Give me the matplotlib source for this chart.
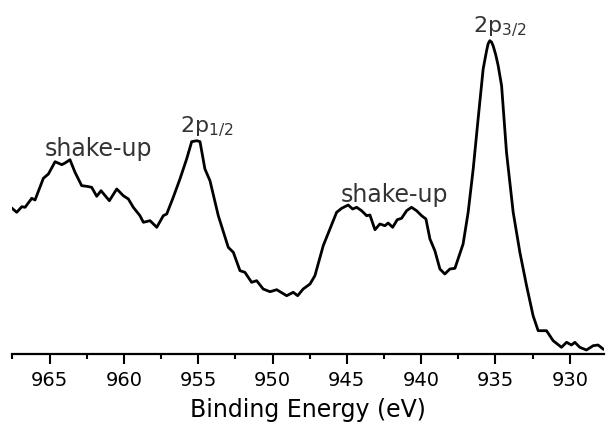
import matplotlib
matplotlib.use("Agg")
import matplotlib.pyplot as plt
from matplotlib.ticker import MultipleLocator

# Binding energy (eV) and intensity (arb. units)
energy = [967.55, 967.21, 966.87, 966.65, 966.20, 965.98, 965.42, 965.08, 964.63, 964.18,
          963.96, 963.63, 963.29, 962.84, 962.50, 962.17, 961.83, 961.54, 960.98, 960.48,
          960.04, 959.70, 959.37, 958.92, 958.69, 958.24, 957.79, 957.35, 957.12, 956.68,
          956.23, 955.78, 955.44, 955.10, 954.88, 954.55, 954.21, 953.65, 952.98, 952.64,
          952.19, 951.86, 951.41, 951.07, 950.63, 950.17, 949.72, 949.05, 948.61, 948.31,
          947.94, 947.48, 947.15, 946.59, 946.14, 945.69, 945.35, 944.91, 944.61, 944.34,
          944.01, 943.67, 943.45, 943.11, 942.78, 942.44, 942.22, 941.92, 941.61, 941.32,
          940.98, 940.65, 940.31, 939.97, 939.68, 939.41, 939.08, 938.74, 938.41, 938.07,
          937.73, 937.18, 936.84, 936.50, 936.17, 935.83, 935.60, 935.49, 935.38, 935.27,
          935.16, 934.98, 934.82, 934.59, 934.26, 933.81, 933.36, 932.91, 932.47, 932.13,
          931.57, 931.12, 930.56, 930.22, 929.89, 929.66, 929.33, 928.88, 928.43, 928.10,
          927.76]
intensity = [146.0, 141.7, 147.3, 146.7, 155.7, 154.0, 175.7, 180.0, 192.3, 189.3,
             191.0, 194.3, 181.7, 168.3, 167.7, 166.7, 157.7, 163.3, 153.3, 165.0,
             158.3, 155.0, 146.7, 138.3, 131.7, 133.3, 126.7, 138.3, 140.0, 156.7,
             175.0, 195.0, 212.3, 213.3, 212.3, 185.0, 173.3, 138.3, 106.7, 101.7,
             83.3, 81.7, 71.7, 73.3, 65.0, 62.3, 64.3, 58.3, 61.7, 58.3,
             65.0, 70.0, 78.3, 108.3, 125.0, 141.7, 145.7, 149.0, 145.0, 146.7,
             143.3, 138.3, 139.0, 124.3, 130.0, 128.3, 131.0, 126.7, 134.3, 135.7,
             143.3, 146.7, 143.3, 138.3, 135.0, 115.0, 103.3, 85.0, 80.0, 85.0,
             85.7, 110.0, 141.7, 185.0, 235.0, 285.0, 303.3, 310.5, 313.3, 312.0,
             308.3, 299.0, 288.3, 268.3, 201.7, 141.7, 101.7, 68.3, 38.3, 23.3,
             23.3, 13.3, 6.7, 11.7, 9.0, 11.7, 6.7, 4.0, 8.3, 9.0,
             5.0]

ticks = [965, 960, 955, 950, 945, 940, 935, 930]

labels = ["shake-up", "2p$_{1/2}$", "shake-up", "2p$_{3/2}$"]
label_x = [961.7, 954.45, 941.8, 934.7]
label_y = [199, 223, 153, 323]
label_size = [17, 16, 17, 16]

fig = plt.figure(figsize=(6.06, 4.35), dpi=100)
ax = fig.add_axes([0.0193, 0.1839, 0.9774, 0.8161])
ax.plot(energy, intensity, color="black", lw=2.0, solid_joinstyle="round")

ax.set_xlim(967.55, 927.7)
ax.set_ylim(0, 355)
for s in ["top", "left", "right"]:
    ax.spines[s].set_visible(False)
ax.spines["bottom"].set_linewidth(1.6)
ax.set_yticks([])
ax.set_xticks(ticks)
ax.xaxis.set_minor_locator(MultipleLocator(2.5))
ax.tick_params(axis="x", which="major", direction="out", length=7.5, width=1.5,
               labelsize=14, pad=4)
ax.tick_params(axis="x", which="minor", direction="out", length=3.8, width=1.5)
for t in ax.get_xticklabels():
    t.set_family("DejaVu Sans")
ax.set_xlabel("Binding Energy (eV)", fontsize=17, family="DejaVu Sans", labelpad=6)

for txt, xv, yv, fs in zip(labels, label_x, label_y, label_size):
    ax.text(xv, yv, txt, ha="center", va="baseline",
            fontsize=fs, color="#333333", family="DejaVu Sans")

fig.savefig("out.png", dpi=100)
